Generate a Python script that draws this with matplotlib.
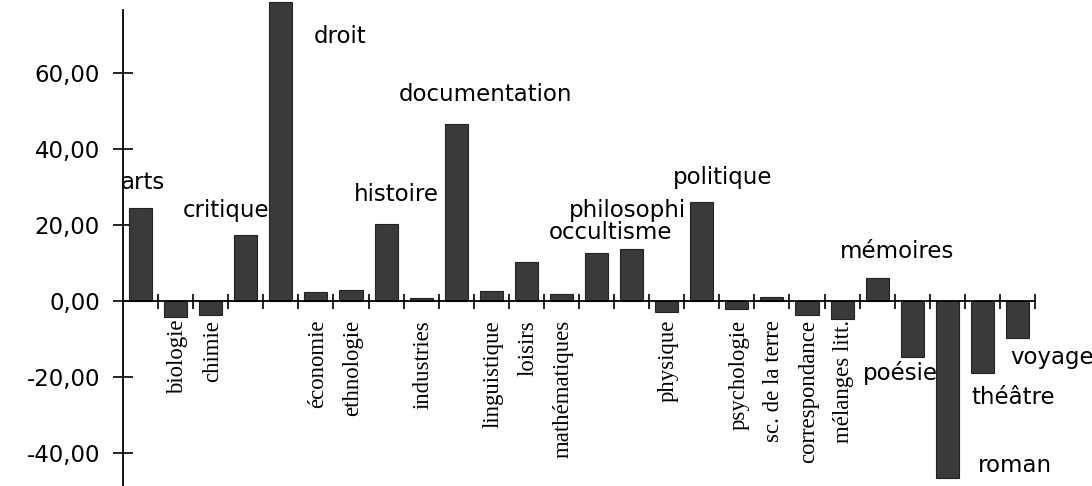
import numpy as np
import matplotlib.pyplot as plt
from matplotlib.ticker import FuncFormatter

# Données
categories = ['arts', 'biologie', 'chimie', 'critique', 'droit', 'économie',
              'ethnologie', 'histoire', 'industries', 'documentation',
              'linguistique', 'loisirs', 'mathématiques', 'occultisme',
              'philosophi', 'physique', 'politique', 'psychologie',
              'sc. de la terre', 'correspondance', 'mélanges litt.',
              'mémoires', 'poésie', 'roman', 'théâtre', 'voyage']
values = [24.4, -4.1, -3.7, 17.3, 78.8, 2.3, 2.9, 20.3, 0.7, 46.5,
          2.7, 10.3, 1.9, 12.5, 13.6, -2.8, 26.0, -2.2, 1.0, -3.7,
          -4.8, 6.1, -14.8, -46.5, -18.9, -9.8]
yticks = [-40, -20, 0, 20, 40, 60]

# Étiquettes horizontales : décalage (en barres) et hauteur
label_pos = {
    'arts': (0.07, 31.3),
    'critique': (-0.57, 23.7),
    'droit': (1.7, 69.5),
    'histoire': (0.29, 27.9),
    'documentation': (0.83, 54.2),
    'occultisme': (0.41, 17.9),
    'philosophi': (-0.13, 23.9),
    'politique': (0.59, 32.6),
    'mémoires': (0.56, 12.9),
    'poésie': (-0.34, -18.9),
    'roman': (1.94, -43.2),
    'théâtre': (0.89, -25.5),
    'voyage': (0.99, -15.0),
}

x = np.arange(len(categories))

fig = plt.figure(figsize=(10.92, 4.86), dpi=100)
ax = fig.add_axes([123 / 1092, 0, 912 / 1092, 1])

ax.bar(x, values, width=0.66, color='#3a3a3a', edgecolor='#222222', linewidth=0.8, zorder=2)

ax.set_xlim(-0.5, 25.5)
ax.set_ylim(-48.7, 79.2)

for s in ['top', 'right']:
    ax.spines[s].set_visible(False)
ax.spines['bottom'].set_position(('data', 0))
ax.spines['left'].set_bounds(-48.7, 76.6)
ax.spines['left'].set_linewidth(1.3)
ax.spines['bottom'].set_linewidth(1.3)

ax.set_yticks(yticks)
ax.yaxis.set_major_formatter(FuncFormatter(lambda v, p: f'{v:.2f}'.replace('.', ',')))
ax.tick_params(axis='y', direction='inout', length=14.4, width=1.2, pad=9.4,
               labelsize=16.5)
ax.set_xticks(np.arange(0.5, 26, 1))
ax.set_xticklabels([])
ax.tick_params(axis='x', direction='inout', length=10.8, width=1.2)
for t in ax.get_yticklabels():
    t.set_fontfamily('DejaVu Sans')

for i, name in enumerate(categories):
    if name in label_pos:
        dx, yy = label_pos[name]
        ax.text(i + dx, yy, name, ha='center', va='center', fontsize=16.5,
                family='DejaVu Sans', zorder=3)
    else:
        ax.text(i + 0.05, -5.0, name, rotation=90, ha='center', va='top',
                fontsize=16.4, family='Liberation Serif', zorder=3)

plt.savefig('out.png', dpi=100)
